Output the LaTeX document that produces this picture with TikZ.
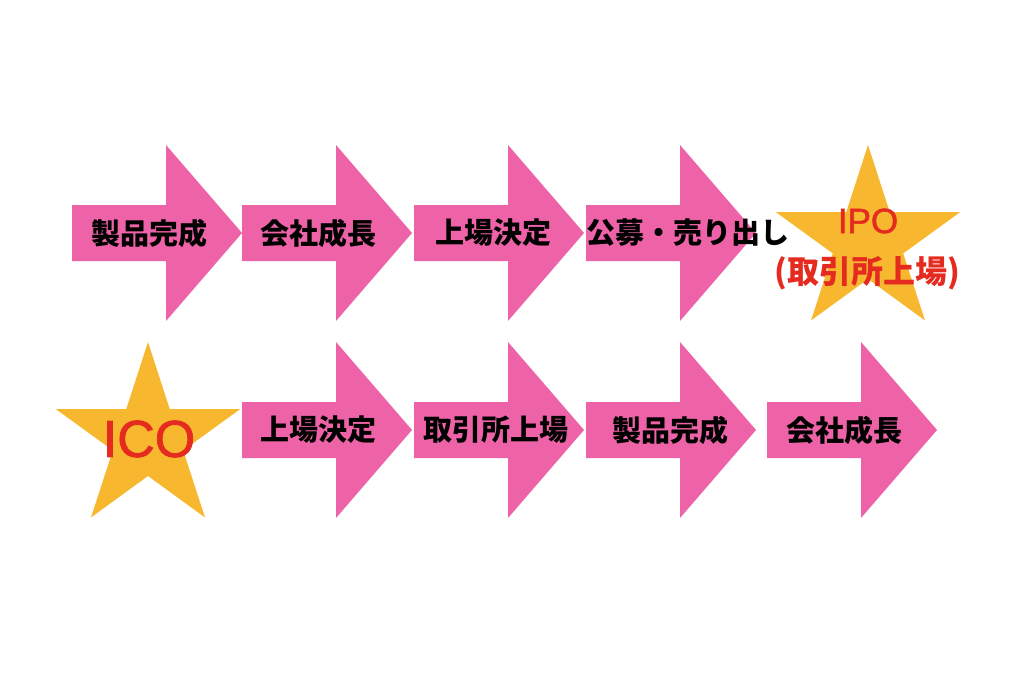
\documentclass[tikz,border=0pt]{standalone}
\usepackage{fontspec}
\setmainfont{Noto Sans CJK JP}
\newfontfamily\latinfont{Liberation Sans}[FakeBold=1.5]
\usepackage{tikz}
\definecolor{arrowpink}{RGB}{238,99,167}
\definecolor{staryellow}{RGB}{247,184,48}
\definecolor{labelred}{RGB}{229,43,31}
\tikzset{
  pinkarrow/.style={fill=arrowpink},
  starshape/.style={fill=staryellow},
  steptext/.style={font=\fontsize{29}{29}\selectfont\bfseries, text=black, inner sep=0pt},
  redtext/.style={font=\fontsize{35}{35}\selectfont\latinfont, text=labelred, inner sep=0pt}
}
\begin{document}
\begin{tikzpicture}[x=1pt, y=-1pt]
\useasboundingbox (0, 0) rectangle (1024, 695);
% top row
\fill[pinkarrow, shift={(72, 233)}] (0, -28) -- (94, -28) -- (94, -88) -- (170, 0) -- (94, 88) -- (94, 28) -- (0, 28) -- cycle;
\fill[pinkarrow, shift={(242, 233)}] (0, -28) -- (94, -28) -- (94, -88) -- (170, 0) -- (94, 88) -- (94, 28) -- (0, 28) -- cycle;
\fill[pinkarrow, shift={(414, 233)}] (0, -28) -- (94, -28) -- (94, -88) -- (170, 0) -- (94, 88) -- (94, 28) -- (0, 28) -- cycle;
\fill[pinkarrow, shift={(586, 233)}] (0, -28) -- (94, -28) -- (94, -88) -- (170, 0) -- (94, 88) -- (94, 28) -- (0, 28) -- cycle;
\fill[starshape, shift={(868, 242)}] (-90:97) \foreach \a in {0, 72, 144, 216, 288} { -- ({\a-90}:97) -- ({\a-54}:37) } -- cycle;
\node[steptext] (seihin) at (149, 233) {製品完成};
\node[steptext] (seicho) at (318, 233) {会社成長};
\node[steptext] (kettei) at (493, 233) {上場決定};
\node[steptext] (koubo) at (688, 233) {公募・売り出し};
\node[redtext] (ipo) at (868, 221) {IPO};
\node[redtext, font=\fontsize{32}{32}\selectfont\bfseries] (torihiki) at (867, 273) {(取引所上場)};
% bottom row
\fill[starshape, shift={(148, 439)}] (-90:97) \foreach \a in {0, 72, 144, 216, 288} { -- ({\a-90}:97) -- ({\a-54}:37) } -- cycle;
\fill[pinkarrow, shift={(242, 430)}] (0, -28) -- (94, -28) -- (94, -88) -- (170, 0) -- (94, 88) -- (94, 28) -- (0, 28) -- cycle;
\fill[pinkarrow, shift={(414, 430)}] (0, -28) -- (94, -28) -- (94, -88) -- (170, 0) -- (94, 88) -- (94, 28) -- (0, 28) -- cycle;
\fill[pinkarrow, shift={(586, 430)}] (0, -28) -- (94, -28) -- (94, -88) -- (170, 0) -- (94, 88) -- (94, 28) -- (0, 28) -- cycle;
\fill[pinkarrow, shift={(767, 430)}] (0, -28) -- (94, -28) -- (94, -88) -- (170, 0) -- (94, 88) -- (94, 28) -- (0, 28) -- cycle;
\node[redtext, font=\fontsize{52}{52}\selectfont\latinfont] (ico) at (149, 439) {ICO};
\node[steptext] (kettei2) at (318, 430) {上場決定};
\node[steptext] (torihiki2) at (496, 430) {取引所上場};
\node[steptext] (seihin2) at (670, 430) {製品完成};
\node[steptext] (seicho2) at (844, 430) {会社成長};
\end{tikzpicture}
\end{document}
